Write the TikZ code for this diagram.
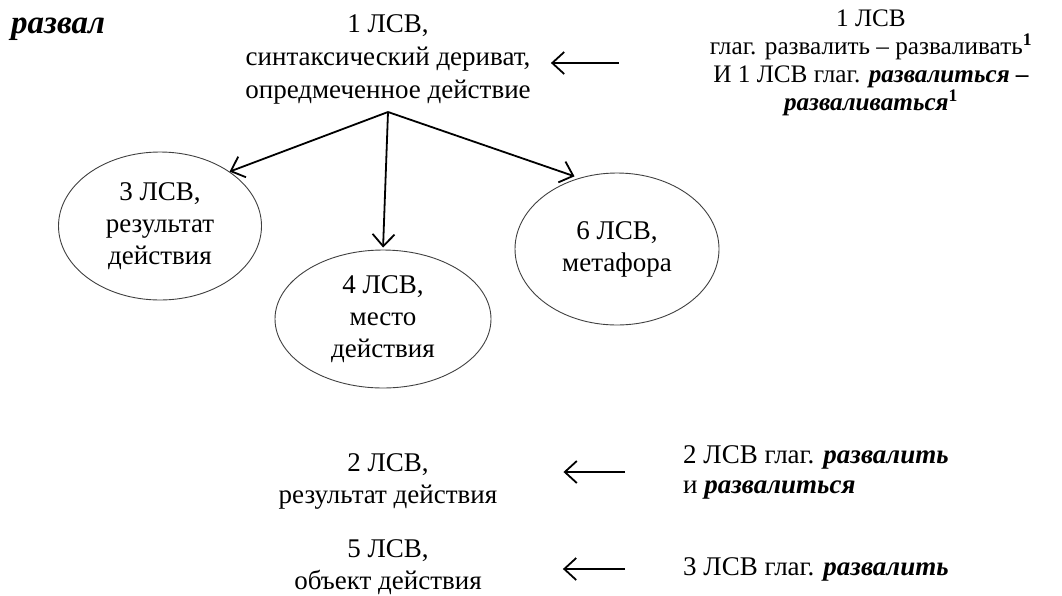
\documentclass[tikz,border=0pt]{standalone}
\usepackage{fontspec}
\setmainfont{Liberation Serif}
\usetikzlibrary{arrows.meta,positioning,shapes.geometric}
\tikzset{
  txt/.style={inner sep=0pt,align=center,font=\fontsize{27}{33}\selectfont},
  ltxt/.style={txt,align=left,font=\fontsize{27}{30}\selectfont},
  oval/.style={ellipse,draw=black!75,line width=0.9pt,inner sep=0pt,align=center,font=\fontsize{27}{32}\selectfont},
  ar/.style={-{Straight Barb[length=12pt,width=22pt]},line width=1.8pt},
}
\newcommand{\bi}[1]{\textbf{\textit{#1}}}

\begin{document}
\begin{tikzpicture}[x=1pt,y=-1pt]
  \useasboundingbox (0,0) rectangle (1062,595);
  % head word and first meaning
  \node[txt,anchor=base west,font=\fontsize{33}{36}\selectfont\bfseries\itshape] (word) at (11,33) {развал};
  \node[txt] (top) at (388,59) {1 ЛСВ,\\синтаксический дериват,\\опредмеченное действие};
  \node[txt,font=\fontsize{25.2}{28}\selectfont] (src1) at (871,63)
    {1 ЛСВ\\глаг. развалить – разваливать\textsuperscript{\textbf{1}}\\И 1 ЛСВ глаг. \bi{развалиться –}\\\bi{разваливаться}\textsuperscript{\textbf{1}}};
  % derived meanings
  \node[oval,minimum width=203pt,minimum height=148pt] (lsv3) at (160,226) {3 ЛСВ,\\результат\\действия};
  \node[oval,minimum width=216pt,minimum height=138pt] (lsv4) at (383,319) {4 ЛСВ,\\место\\действия};
  \node[oval,minimum width=204pt,minimum height=152pt] (lsv6) at (617,249) {6 ЛСВ,\\метафора};
  \coordinate (apex) at (388,112);
  \draw[ar] (apex) -- (lsv3.38);
  \draw[ar,shorten >=2pt] (apex) -- (lsv4.north);
  \draw[ar,shorten >=5pt] (apex) -- (lsv6.118);
  % bottom rows
  \node[txt,font=\fontsize{27}{32}\selectfont] (lsv2) at (388,481.5) {2 ЛСВ,\\результат действия};
  \node[txt,font=\fontsize{27}{32}\selectfont] (lsv5) at (388,567.5) {5 ЛСВ,\\объект действия};
  \node[ltxt,anchor=west] (src2) at (683,472) {2 ЛСВ глаг. \bi{развалить}\\и \bi{развалиться}};
  \node[ltxt,anchor=west] (src3) at (683,569) {3 ЛСВ глаг. \bi{развалить}};
  \draw[ar,shorten <=91pt,shorten >=20pt] (src1.west) -- (src1.west -| top.east);
  \draw[ar,shorten <=58pt,shorten >=66pt] (src2.west) -- (src2.west -| lsv2.east);
  \draw[ar,shorten <=58pt,shorten >=81pt] (src3.west) -- (src3.west -| lsv5.east);
\end{tikzpicture}
\end{document}
